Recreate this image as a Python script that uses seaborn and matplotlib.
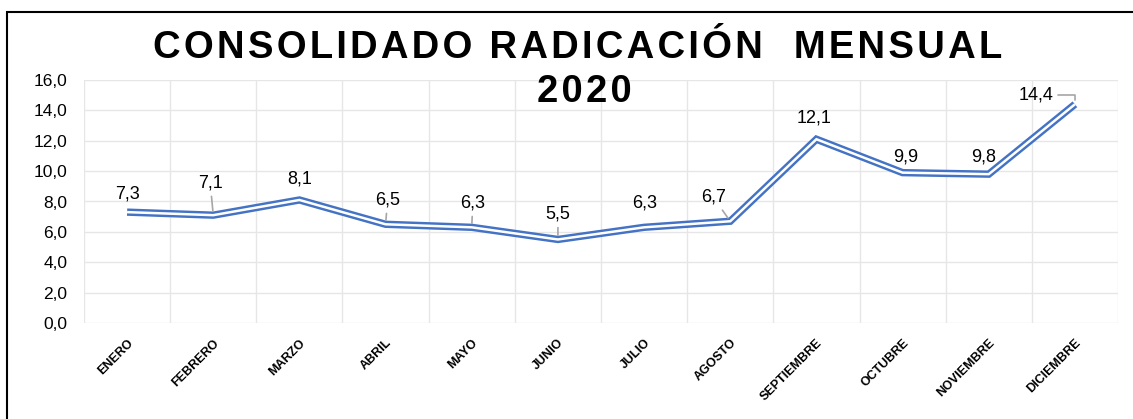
import matplotlib
matplotlib.use("Agg")
import matplotlib.pyplot as plt
from matplotlib.patches import Rectangle
import numpy as np
import pandas as pd
import seaborn as sns

# datos
meses = ["ENERO", "FEBRERO", "MARZO", "ABRIL", "MAYO", "JUNIO", "JULIO",
         "AGOSTO", "SEPTIEMBRE", "OCTUBRE", "NOVIEMBRE", "DICIEMBRE"]
radicacion = [7.3, 7.1, 8.1, 6.5, 6.3, 5.5, 6.3, 6.7, 12.1, 9.9, 9.8, 14.4]
y_ticks = [0, 2, 4, 6, 8, 10, 12, 14, 16]

# desplazamiento de etiquetas (px) y linea guia
label_off = [(0, 18), (-3, 32), (0, 21), (2, 24), (1, 24), (0, 25), (1, 24),
             (-17, 24), (-2, 21), (3, 16), (-5, 17), (-39, 9)]
leader = [False, True, False, True, True, True, False, True, False, False, False, True]

sns.set_style("white")
plt.rcParams['font.family'] = ['Liberation Sans', 'DejaVu Sans']
plt.rcParams['text.color'] = 'black'
plt.rcParams['xtick.color'] = 'black'
plt.rcParams['ytick.color'] = 'black'

df = pd.DataFrame({"pos": np.arange(len(meses)), "valor": radicacion})

fig = plt.figure(figsize=(11.33, 4.19), dpi=100)
ax = fig.add_axes([84 / 1133, 1 - 323 / 419, (1118 - 84) / 1133, (323 - 80) / 419])

BLUE = "#4472C4"
sns.lineplot(data=df, x="pos", y="valor", ax=ax, color=BLUE, linewidth=5.3, sort=False)
sns.lineplot(data=df, x="pos", y="valor", ax=ax, color="white", linewidth=1.8, sort=False)
for ln in ax.lines:
    ln.set_solid_joinstyle("miter")
    ln.set_solid_capstyle("butt")

ax.set_xlim(-0.5, len(meses) - 0.5)
ax.set_ylim(0, 16)
ax.set_yticks(y_ticks)
ax.set_yticklabels([f"{v:.1f}".replace(".", ",") for v in y_ticks], fontsize=12.5)
ax.set_xticks(df["pos"])
ax.set_xticklabels(meses, rotation=45, ha="right", va="top", rotation_mode="anchor",
                   fontsize=9, fontweight="bold")
ax.set_xticks(np.arange(-0.5, len(meses)), minor=True)
ax.tick_params(axis="both", which="both", length=0)
ax.tick_params(axis="y", pad=12)
ax.tick_params(axis="x", pad=10)
ax.grid(axis="y", color="#e6e6e6", linewidth=1)
ax.grid(axis="x", which="minor", color="#e6e6e6", linewidth=1)
ax.grid(axis="x", which="major", visible=False)
for s in ax.spines.values():
    s.set_visible(False)
ax.set_xlabel("")
ax.set_ylabel("")

for i, v in enumerate(radicacion):
    dx, dy = label_off[i]
    kw = {}
    if leader[i]:
        conn = "angle,angleA=0,angleB=90,rad=0" if i == len(meses) - 1 else "arc3"
        kw["arrowprops"] = dict(arrowstyle="-", color="#a6a6a6", lw=1.2,
                                shrinkA=1, shrinkB=3, connectionstyle=conn)
    ax.annotate(f"{v:.1f}".replace(".", ","), xy=(i, v),
                xytext=(dx * 0.72, dy * 0.72), textcoords="offset points",
                ha="center", va="center", fontsize=13, color="black", **kw)

hs = "\u200a"
t1 = hs.join("CONSOLIDADO RADICACIÓN  MENSUAL")
fig.text(578 / 1133, 1 - 48 / 419, t1, ha="center", va="center",
         fontsize=27.5, fontweight="bold", color="black")
fig.text(584 / 1133, 1 - 92 / 419, hs.join("2020"), ha="center", va="center",
         fontsize=27.5, fontweight="bold", color="black")

fig.patches.append(Rectangle((7 / 1133, -0.2), 1.2, 1.2 - 12 / 419, transform=fig.transFigure,
                             fill=False, edgecolor="black", linewidth=1.5))

fig.savefig("out.png", dpi=100)
